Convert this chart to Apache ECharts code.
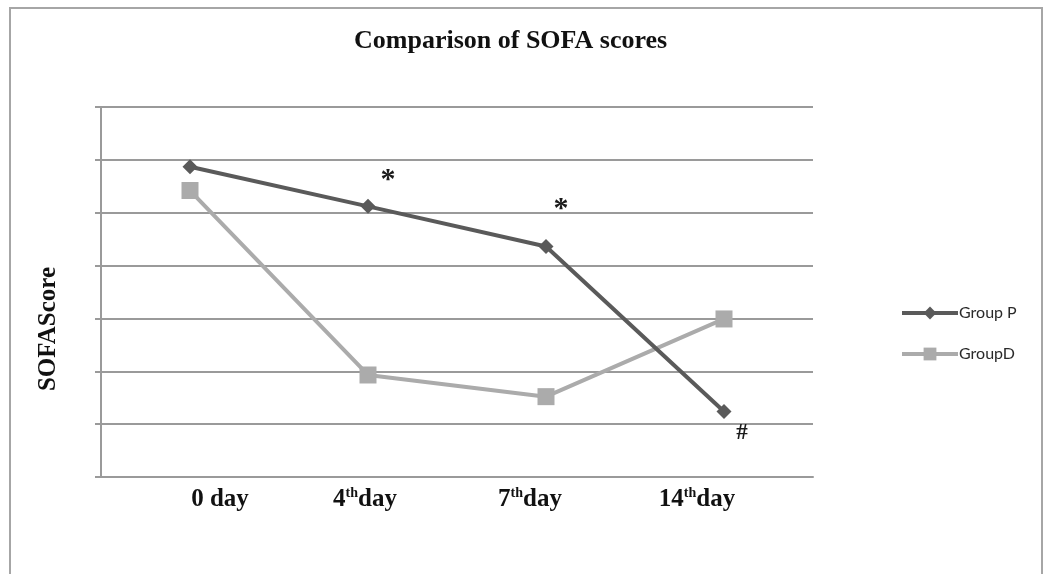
<!DOCTYPE html>
<html>
<head>
<meta charset="utf-8">
<script src="https://cdn.jsdelivr.net/npm/echarts@6/dist/echarts.min.js"></script>
<style>
html, body { margin: 0; padding: 0; background: #fff; }
#chart { width: 1048px; height: 574px; }
</style>
</head>
<body>
<div id="chart"></div>
<script>
// SOFA scores (y axis has no labels, 7 grid steps)
var categories = ['0 day', '4th day', '7th day', '14th day'];
var groupP = [5.87, 5.12, 4.36, 1.24];
var groupD = [5.42, 1.93, 1.52, 2.99];
// significance marks drawn next to the Group P points
var marksP = ['', '*', '*', '#'];

var serif = '"Liberation Serif", "Times New Roman", serif';

// offsets of the marks from their point, and of the day labels from their tick
var markOffsets = [[0, 0], [20, -26], [15, -37], [18, 22]];
var labelShift = [30, -3, -16, -27];

var pData = groupP.map(function(v, i) {
    var item = { value: v };
    if (marksP[i]) {
        var star = marksP[i] == '*';
        item.label = {
            show: true,
            formatter: marksP[i],
            position: 'inside',
            offset: markOffsets[i],
            fontFamily: serif,
            fontWeight: 'bold',
            fontSize: star ? 30 : 23,
            color: '#1a1a1a'
        };
    }
    return item;
});

// rich styles for the day labels, one spacer per label to move it off its tick
var rich = {
    n: { fontFamily: serif, fontWeight: 'bold', fontSize: 25, lineHeight: 34, color: '#111' },
    s: { fontFamily: serif, fontWeight: 'bold', fontSize: 14, lineHeight: 14, color: '#111', padding: [0, 0, 13, 0] }
};
labelShift.forEach(function(s, i) {
    rich['g' + i] = { width: Math.abs(s) * 2, height: 1, lineHeight: 1 };
});

var chart = echarts.init(document.getElementById('chart'));
chart.setOption({
    animation: false,
    backgroundColor: '#fff',
    graphic: [{
        type: 'rect',
        shape: { x: 10, y: 8, width: 1032, height: 620 },
        style: { fill: 'none', stroke: '#a6a6a6', lineWidth: 2 },
        silent: true,
        z: -1
    }],
    title: {
        text: 'Comparison of SOFA scores',
        left: 349,
        top: 23,
        textStyle: {
            fontFamily: serif,
            fontWeight: 'bold',
            fontSize: 26,
            color: '#111'
        }
    },
    legend: {
        orient: 'vertical',
        left: 895,
        top: 300,
        itemWidth: 56,
        itemHeight: 16,
        itemGap: 25,
        lineStyle: { width: 4 },
        textStyle: { fontFamily: 'Lato, "Open Sans", sans-serif', fontSize: 16, color: '#2a2a2a', padding: [0, 0, 0, -4] },
        data: ['Group P', 'GroupD']
    },
    grid: { left: 101, right: 235, top: 107, bottom: 97 },
    xAxis: {
        type: 'category',
        data: categories,
        axisLine: { lineStyle: { color: '#9a9a9a', width: 2 } },
        axisTick: { length: 6, lineStyle: { color: '#9a9a9a', width: 2 } },
        axisLabel: {
            margin: 6,
            formatter: function(v, idx) {
                var m = v.match(/^(\d+)th\s?(.*)$/);
                var txt = m ? '{n|' + m[1] + '}{s|th}{n|' + m[2] + '}' : '{n|' + v + '}';
                var gap = '{g' + idx + '|}';
                return labelShift[idx] > 0 ? gap + txt : txt + gap;
            },
            rich: rich
        }
    },
    yAxis: {
        type: 'value',
        min: 0,
        max: 7,
        interval: 1,
        name: 'SOFAScore',
        nameLocation: 'middle',
        nameGap: 40,
        nameRotate: 90,
        nameTextStyle: { fontFamily: serif, fontWeight: 'bold', fontSize: 25, color: '#111', padding: [0, 74, 0, 0] },
        axisLine: { show: true, lineStyle: { color: '#9a9a9a', width: 2 } },
        axisTick: { show: true, length: 6, lineStyle: { color: '#9a9a9a', width: 2 } },
        axisLabel: { show: false },
        splitLine: { lineStyle: { color: '#9a9a9a', width: 2 } }
    },
    series: [{
        name: 'Group P',
        type: 'line',
        data: pData,
        symbol: 'diamond',
        symbolSize: 15,
        lineStyle: { color: '#5a5a5a', width: 4 },
        itemStyle: { color: '#5a5a5a' },
        z: 3
    }, {
        name: 'GroupD',
        type: 'line',
        data: groupD,
        symbol: 'rect',
        symbolSize: 17,
        lineStyle: { color: '#ababab', width: 4 },
        itemStyle: { color: '#ababab' },
        z: 2
    }]
});
</script>
</body>
</html>
